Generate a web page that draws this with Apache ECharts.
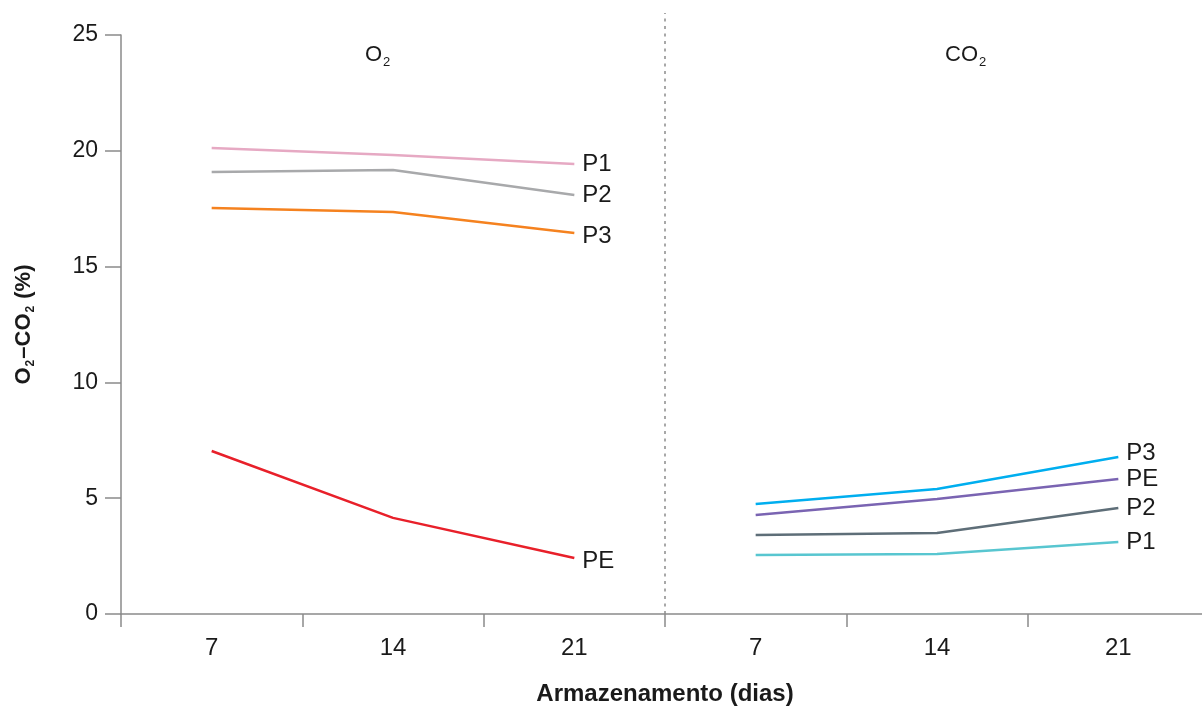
<!DOCTYPE html>
<html>
<head>
<meta charset="utf-8">
<title>O2 - CO2</title>
<script src="https://cdn.jsdelivr.net/npm/echarts@6/dist/echarts.min.js"></script>
<style>
    html, body { margin: 0; padding: 0; background: #fff; }
    #chart { width: 1202px; height: 706px; }
</style>
</head>
<body>
<div id="chart"></div>
<script>
// dias de armazenamento, painel O2 + painel CO2
const days = ['7', '14', '21', '7', '14', '21']

// O2 (%)
const o2P1 = [20.12, 19.82, 19.43]
const o2P2 = [19.08, 19.17, 18.09]
const o2P3 = [17.53, 17.36, 16.45]
const o2PE = [7.04, 4.15, 2.42]

// CO2 (%) - ocupa as 3 ultimas categorias
const co2P3 = [null, null, null, 4.75, 5.40, 6.78]
const co2PE = [null, null, null, 4.27, 4.97, 5.83]
const co2P2 = [null, null, null, 3.41, 3.50, 4.58]
const co2P1 = [null, null, null, 2.55, 2.59, 3.11]

const yTicks = { min: 0, max: 25, interval: 5 }
// separador pontilhado entre os paineis (posicao no eixo 0..6)
const divider = [[3, 0], [3, 25.95]]

const font = 'Liberation Sans, Arial, Helvetica, sans-serif'
const textColor = '#1a1a1a'
const axisColor = '#8a8a8a'

const myChart = echarts.init(document.getElementById('chart'))

function lineSeries (name, data, color, labelOffset) {
    return {
        name: name,
        type: 'line',
        data: data,
        symbol: 'none',
        smooth: false,
        lineStyle: { color: color, width: 2.5 },
        itemStyle: { color: color },
        endLabel: {
            show: true,
            formatter: name,
            distance: 8,
            offset: labelOffset || [0, 0],
            color: textColor,
            fontSize: 24,
            fontFamily: font
        },
        emphasis: { disabled: true }
    }
}

const subRich = {
    m: { fontSize: 22, fontWeight: 'normal', fontFamily: font, color: textColor },
    s: { fontSize: 13, fontWeight: 'normal', fontFamily: font, color: textColor, padding: [16, 0, 0, 1] }
}

const option = {
    animation: false,
    backgroundColor: '#ffffff',
    title: [
        {
            text: '{m|O}{s|2}',
            left: 365,
            top: 40,
            padding: 0,
            textStyle: { fontWeight: 'normal', rich: subRich }
        },
        {
            text: '{m|CO}{s|2}',
            left: 945,
            top: 40,
            padding: 0,
            textStyle: { fontWeight: 'normal', rich: subRich }
        }
    ],
    grid: {
        left: 121,
        right: -7,
        top: 35,
        bottom: 92,
        outerBoundsMode: 'none'
    },
    xAxis: [
        {
            type: 'category',
            data: days,
            boundaryGap: true,
            name: 'Armazenamento (dias)',
            nameLocation: 'middle',
            nameGap: 68,
            nameTextStyle: {
                fontSize: 24,
                fontWeight: 'bold',
                fontFamily: font,
                color: textColor
            },
            axisLine: { lineStyle: { color: axisColor, width: 1.5 } },
            axisTick: { show: true, length: 13, lineStyle: { color: axisColor, width: 1.5 } },
            axisLabel: {
                fontSize: 24,
                fontFamily: font,
                color: textColor,
                margin: 22
            },
            splitLine: { show: false }
        },
        {
            type: 'value',
            min: 0,
            max: 6,
            show: false
        }
    ],
    yAxis: {
        type: 'value',
        min: yTicks.min,
        max: yTicks.max,
        interval: yTicks.interval,
        name: '{b|O}{bs|2}{b|–CO}{bs|2}{b| (%)}',
        nameLocation: 'middle',
        nameRotate: 90,
        nameGap: 84,
        nameTextStyle: {
            rich: {
                b: { fontSize: 22, fontWeight: 'bold', fontFamily: font, color: textColor },
                bs: { fontSize: 12, fontWeight: 'bold', fontFamily: font, color: textColor, padding: [14, 1, 0, 1] }
            }
        },
        axisLine: { show: true, lineStyle: { color: axisColor, width: 1.5 } },
        axisTick: { show: true, length: 16, lineStyle: { color: axisColor, width: 1.5 } },
        axisLabel: {
            fontSize: 23,
            fontFamily: font,
            color: textColor,
            margin: 23
        },
        splitLine: { show: false }
    },
    series: [
        {
            name: 'divisor',
            type: 'line',
            xAxisIndex: 1,
            data: divider,
            symbol: 'none',
            clip: false,
            silent: true,
            lineStyle: { color: '#8c8c8c', width: 1.5, type: [3, 4.5] },
            z: 1
        },
        lineSeries('P1', o2P1, '#e6a9c3'),
        lineSeries('P2', o2P2, '#a8a9ab'),
        lineSeries('P3', o2P3, '#f5821f', [0, 3]),
        lineSeries('PE', o2PE, '#e8202a', [0, 3]),
        lineSeries('P3', co2P3, '#00aeef', [0, -4]),
        lineSeries('PE', co2PE, '#7a64b2'),
        lineSeries('P2', co2P2, '#5e6e78'),
        lineSeries('P1', co2P1, '#58c6d0')
    ]
}

myChart.setOption(option)
window.addEventListener('resize', myChart.resize)
</script>
</body>
</html>
